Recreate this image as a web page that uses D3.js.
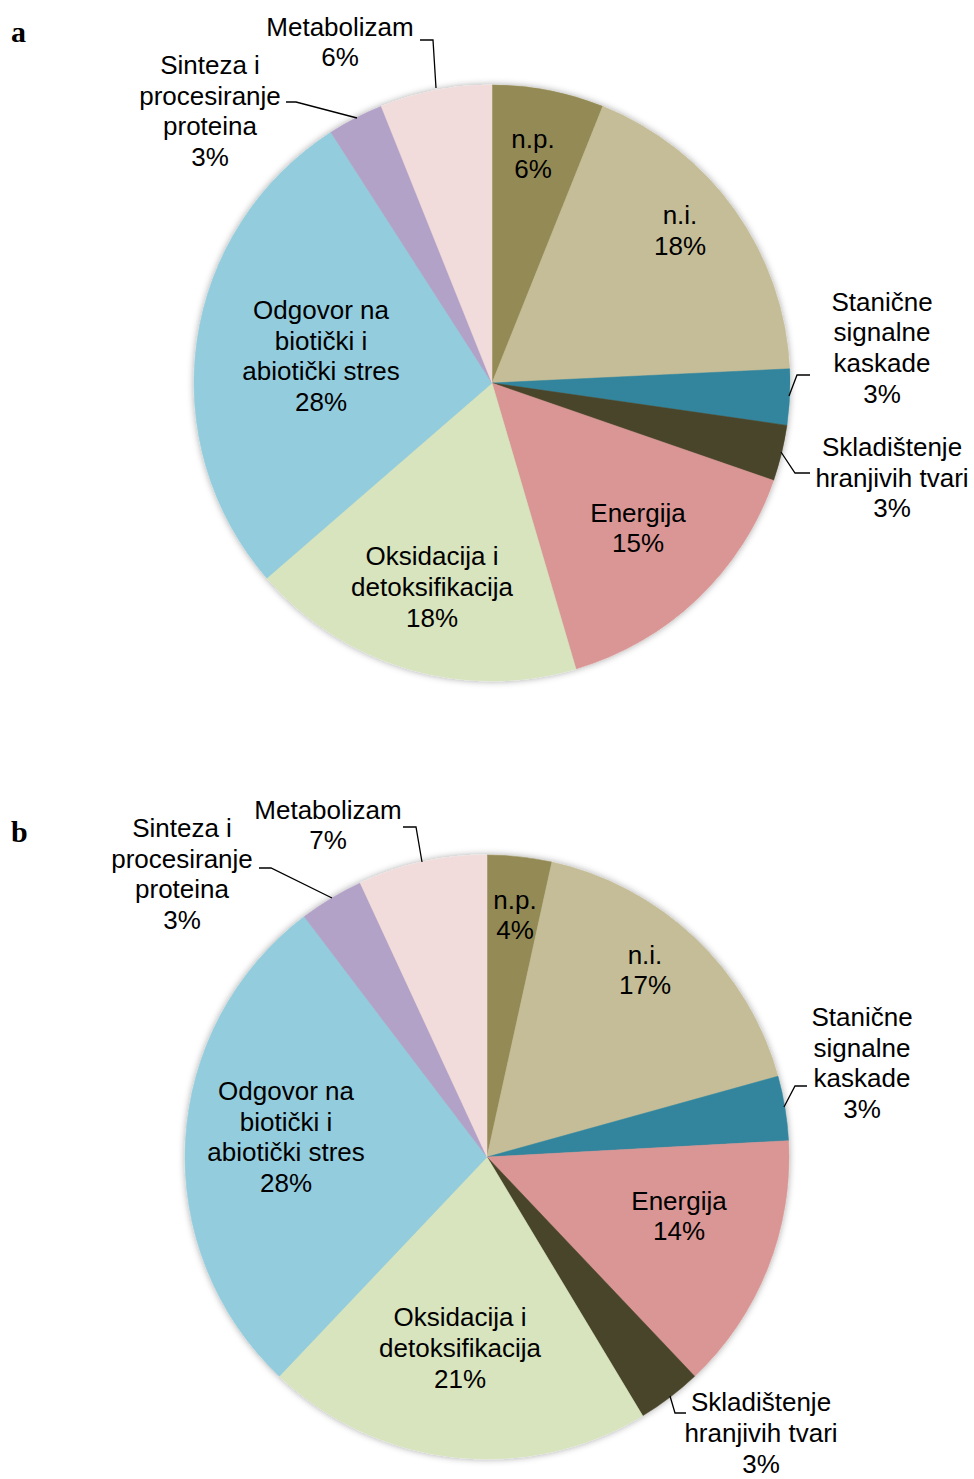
<!DOCTYPE html>
<html>
<head>
<meta charset="utf-8">
<script src="https://cdn.jsdelivr.net/npm/d3@7"></script>
<style>
html,body{margin:0;padding:0;background:#fff;}
svg{display:block;}
</style>
</head>
<body>
<svg id="chart" width="974" height="1479"></svg>
<script>
// ---- data ----
const categoriesA = ["n.p.", "n.i.", "Stanične\nsignalne\nkaskade", "Skladištenje\nhranjivih tvari", "Energija",
  "Oksidacija i\ndetoksifikacija", "Odgovor na\nbiotički i\nabiotički stres", "Sinteza i\nprocesiranje\nproteina", "Metabolizam"];
const valuesA = [2, 6, 1, 1, 5, 6, 9, 1, 2];
const percentA = ["6%", "18%", "3%", "3%", "15%", "18%", "28%", "3%", "6%"];

const categoriesB = ["n.p.", "n.i.", "Stanične\nsignalne\nkaskade", "Energija", "Skladištenje\nhranjivih tvari",
  "Oksidacija i\ndetoksifikacija", "Odgovor na\nbiotički i\nabiotički stres", "Sinteza i\nprocesiranje\nproteina", "Metabolizam"];
const valuesB = [1, 5, 1, 4, 1, 6, 8, 1, 2];
const percentB = ["4%", "17%", "3%", "14%", "3%", "21%", "28%", "3%", "7%"];

// ---- styles / layout ----
const colorOf = {
  "n.p.": "#948A54",
  "n.i.": "#C4BD97",
  "Stanične": "#31859C",
  "Skladištenje": "#4A452A",
  "Energija": "#D99694",
  "Oksidacija": "#D7E4BD",
  "Odgovor": "#93CDDD",
  "Sinteza": "#B3A2C7",
  "Metabolizam": "#F2DCDB"
};
const FS = 26, LH = 30.7;

// label block centers relative to pie centre, and leader polylines (relative)
const layoutA = {
  cx: 492, cy: 383, r: 298, tag: "a", tagX: 11, tagY: 42,
  labels: [[41,-229],[188,-152.5],[390,-35.5],[400,94.5],[146,145],[-60,204],[-171,-27],[-282,-272],[-152,-341]],
  leaders: {2: [[318,-8],[305,-8],[297,13]], 3: [[318,90],[303,90],[289,69]],
            7: [[-206,-281],[-196,-281],[-135,-265]], 8: [[-72,-343],[-59,-343],[-56,-295]]}
};
const layoutB = {
  cx: 487, cy: 1157, r: 302, tag: "b", tagX: 11, tagY: 842,
  labels: [[28,-242],[158,-187],[375,-94],[192,59],[274,276],[-27,191],[-201,-20],[-305,-283],[-159,-332]],
  leaders: {2: [[320,-71],[308,-71],[297,-50]], 4: [[199,256],[188,256],[183,239]],
            7: [[-228,-289],[-216,-289],[-155,-259]], 8: [[-84,-330],[-71,-330],[-65,-295]]}
};

const svg = d3.select("#chart");
const defs = svg.append("defs");
const f = defs.append("filter").attr("id","shadow").attr("x","-10%").attr("y","-10%").attr("width","120%").attr("height","120%");
f.append("feDropShadow").attr("dx",0).attr("dy",0).attr("stdDeviation",3.5).attr("flood-color","#000").attr("flood-opacity",0.35);

function drawPie(categories, values, percents, L) {
  const g = svg.append("g").attr("transform", `translate(${L.cx},${L.cy})`);
  const pie = d3.pie().sort(null).value(d => d)(values);
  const arc = d3.arc().innerRadius(0).outerRadius(L.r);
  const colorScale = d3.scaleOrdinal()
    .domain(categories)
    .range(categories.map(c => colorOf[c.split(/[\s\n]/)[0]]));

  const slices = g.append("g").attr("filter","url(#shadow)");
  slices.selectAll("path").data(pie).join("path")
    .attr("d", arc)
    .attr("fill", (d,i) => colorScale(categories[i]))
    .attr("stroke", (d,i) => colorScale(categories[i]))
    .attr("stroke-width", 0.5);

  // leader lines
  Object.entries(L.leaders).forEach(([i, pts]) => {
    g.append("path")
      .attr("d", d3.line()(pts))
      .attr("fill","none").attr("stroke","#000").attr("stroke-width",1.3);
  });

  // labels
  categories.forEach((c, i) => {
    const lines = c.split("\n").concat([percents[i]]);
    const [lx, ly] = L.labels[i];
    const y0 = ly - (lines.length - 1) * LH / 2 + 0.35 * FS;
    const t = g.append("text")
      .attr("text-anchor","middle")
      .attr("font-family","'Liberation Sans', Arial, sans-serif")
      .attr("font-size", FS).attr("fill","#000");
    lines.forEach((s, k) => {
      t.append("tspan").attr("x", lx).attr("y", y0 + k * LH).text(s);
    });
  });

  svg.append("text").attr("x", L.tagX).attr("y", L.tagY)
    .attr("font-family","'Liberation Serif', 'Times New Roman', serif")
    .attr("font-weight","bold").attr("font-size", 30).text(L.tag);
}

drawPie(categoriesA, valuesA, percentA, layoutA);
drawPie(categoriesB, valuesB, percentB, layoutB);
</script>
</body>
</html>
